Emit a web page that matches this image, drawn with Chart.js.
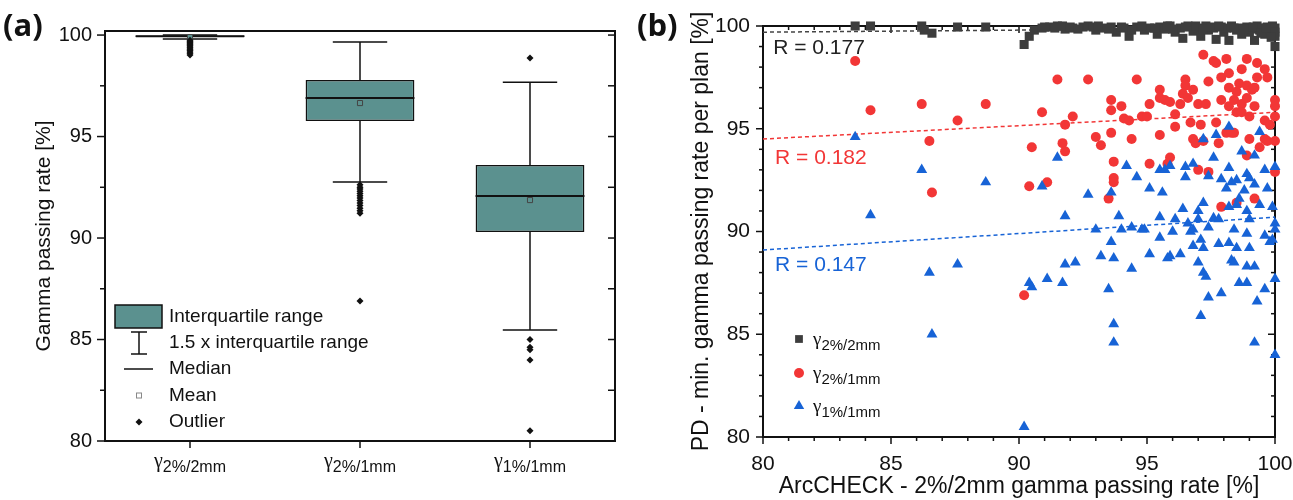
<!DOCTYPE html>
<html>
<head>
<meta charset="utf-8">
<script src="https://cdn.jsdelivr.net/npm/chart.js@4.4.0/dist/chart.umd.min.js"></script>
<style>
    body { margin: 0; background: #fff; width: 1293px; height: 500px; position: relative; overflow: hidden; }
    canvas { position: absolute; top: 0; }
    #boxCanvas { left: 0; }
    #scatterCanvas { left: 625px; }
</style>
</head>
<body>
<canvas id="boxCanvas" width="625" height="500"></canvas>
<canvas id="scatterCanvas" width="668" height="500"></canvas>
<script>
// --- (a) box plot values ---
const boxSubs = ['2%/2mm', '2%/1mm', '1%/1mm'];   // subscripts of the gamma criteria
const boxQ1 = [99.88, 95.76, 90.30];
const boxQ3 = [99.98, 97.78, 93.60];
const boxMedian = [99.95, 96.90, 92.07];
const boxMean = [99.90, 96.65, 91.87];
const whiskerLow = [99.80, 92.76, 85.47];
const whiskerHigh = [100.0, 99.66, 97.68];
const outliers = [
    [99.74, 99.68, 99.63, 99.57, 99.52, 99.47, 99.41, 99.36, 99.3, 99.24, 99.17, 99.1, 99.02],
    [92.62, 92.5, 92.41, 92.3, 92.2, 92.08, 91.97, 91.85, 91.72, 91.6, 91.47, 91.35, 91.22, 86.9],
    [98.87, 85.0, 84.62, 84.5, 83.99, 80.5]
];
const legendA = ['Interquartile range', '1.5 x interquartile range', 'Median', 'Mean', 'Outlier'];

// --- (b) scatter values ---
const sqX = [83.6, 84.2, 86.2, 86.3, 86.6, 87.6, 88.7, 90.2, 90.4, 90.6, 90.9, 91.2, 91.5, 91.8, 92.1, 92.5,
    92.7, 93.0, 93.3, 93.6, 93.8, 94.1, 94.3, 94.6, 94.9, 95.1, 95.4, 95.5, 95.7, 95.9, 96.1, 96.3, 96.4,
    96.6, 96.8, 97.0, 97.1, 97.3, 97.4, 97.6, 97.7, 97.9, 98.0, 98.1, 98.2, 98.3, 98.5, 98.6, 98.7, 98.9,
    99.0, 99.1, 99.2, 99.3, 99.4, 99.5, 99.6, 99.7, 99.8, 99.9, 100, 100, 100, 100,
    91.0, 91.4, 91.7, 92.0, 92.3, 92.9, 93.1, 93.5, 94.0, 94.4, 94.8, 95.3, 95.8, 96.0, 96.5, 96.9, 97.2,
    97.5, 97.8, 98.4, 98.8, 99.15, 99.45, 99.65, 99.85];
const sqY = [100, 100, 100, 99.8, 99.65, 99.95, 99.95, 99.1, 99.5, 99.8, 99.9, 99.95, 100, 99.85, 99.9, 99.95,
    100, 99.8, 99.9, 99.95, 99.7, 99.9, 99.5, 99.95, 99.8, 99.9, 99.6, 99.95, 99.85, 100, 99.7, 99.9, 99.4,
    100, 99.75, 99.9, 99.5, 100, 99.8, 99.9, 99.35, 99.95, 99.7, 99.9, 99.3, 100, 99.8, 99.9, 99.6, 99.95,
    99.7, 99.85, 99.3, 100, 99.8, 99.9, 99.6, 99.95, 99.8, 100, 99.9, 99.5, 99.0, 99.7,
    99.95, 99.9, 100, 99.95, 99.85, 99.95, 100, 99.85, 99.95, 99.8, 100, 99.9, 100, 99.85, 99.95, 100, 99.85,
    99.95, 100, 99.9, 99.85, 99.95, 99.65, 99.9, 99.45];

const dotX = [83.6, 84.2, 86.2, 86.5, 86.6, 87.6, 88.7, 90.2, 90.4, 90.5, 90.9, 91.1, 91.5, 91.7, 91.8, 91.8,
    92.1, 92.7, 93.0, 93.2, 93.5, 93.6, 93.6, 93.6, 93.7, 93.7, 93.7, 94.0, 94.1, 94.3, 94.4, 94.6, 94.8,
    95.0, 95.1, 95.1, 95.5, 95.5, 95.5, 95.7, 95.9, 95.9, 95.8, 96.1, 96.1, 96.3, 96.4, 96.5, 96.5, 96.6,
    96.8, 96.7, 96.8, 96.9, 97.0, 97.0, 97.1, 97.2, 97.2, 97.3, 97.4, 97.4, 97.6, 97.7, 97.7, 97.8, 97.9,
    97.9, 97.9, 98.1, 98.1, 98.2, 98.2, 98.2, 98.3, 98.4, 98.4, 98.5, 98.5, 98.5, 98.6, 98.7, 98.7, 98.7,
    98.9, 98.9, 98.9, 98.9, 99.0, 99.0, 99.1, 99.2, 99.2, 99.2, 99.3, 99.3, 99.4, 99.6, 99.6, 99.6, 99.7,
    99.7, 99.8, 100, 100, 100, 100, 100];
const dotY = [98.3, 95.9, 96.2, 94.4, 91.9, 95.4, 96.2, 86.9, 92.2, 94.1, 95.8, 92.4, 97.4, 94.3, 93.9, 95.2,
    95.6, 97.4, 94.6, 94.2, 91.6, 96.4, 95.9, 94.8, 93.4, 92.6, 92.4, 96.1, 95.5, 95.4, 94.5, 97.4, 95.6,
    95.6, 96.2, 93.3, 94.7, 96.9, 96.5, 96.4, 96.3, 93.6, 93.3, 95.7, 95.1, 96.2, 96.7, 97.4, 97.1, 96.5,
    96.9, 95.3, 94.5, 94.3, 96.2, 93.0, 95.2, 98.6, 94.4, 96.2, 97.3, 92.9, 98.3, 98.2, 95.3, 94.3, 97.5,
    96.4, 91.2, 98.4, 94.8, 97.7, 97.0, 96.1, 94.8, 94.8, 96.4, 95.8, 96.8, 91.4, 97.2, 97.9, 96.2, 95.8,
    98.4, 97.1, 96.5, 93.7, 95.6, 94.5, 96.9, 97.0, 96.1, 91.6, 98.2, 97.5, 94.1, 97.9, 95.4, 94.5, 97.5,
    94.4, 95.2, 96.4, 96.1, 95.6, 94.4, 92.9];

const triX = [83.6, 84.2, 86.2, 86.5, 86.6, 87.6, 88.7, 90.2, 90.4, 90.5, 90.9, 91.1, 91.5, 91.7, 91.8, 91.8,
    92.2, 92.7, 93.0, 93.2, 93.5, 93.6, 93.6, 93.7, 93.7, 93.7, 93.9, 94.0, 94.2, 94.4, 94.4, 94.6, 94.8,
    94.9, 95.1, 95.1, 95.5, 95.6, 95.5, 95.5, 95.7, 95.8, 95.9, 95.9, 96.0, 96.1, 96.3, 96.4, 96.5, 96.5,
    96.6, 96.7, 96.8, 96.8, 96.8, 97.0, 97.0, 97.0, 97.1, 97.1, 97.2, 97.2, 97.2, 97.2, 97.3, 97.4, 97.4,
    97.4, 97.6, 97.6, 97.7, 97.8, 97.8, 97.9, 97.9, 98.1, 98.2, 98.2, 98.2, 98.2, 98.3, 98.3, 98.4, 98.4,
    98.5, 98.5, 98.5, 98.6, 98.6, 98.7, 98.8, 98.9, 98.9, 98.9, 98.9, 98.9, 99.0, 99.0, 99.0, 99.2, 99.2,
    99.2, 99.2, 99.3, 99.4, 99.4, 99.6, 99.6, 99.6, 99.7, 99.8, 99.9, 99.9, 100, 100, 100, 100, 100];
const triY = [94.6, 90.8, 93.0, 88.0, 85.0, 88.4, 92.4, 80.5, 87.5, 87.3, 92.2, 87.7, 93.6, 87.5, 90.75, 88.4,
    88.5, 91.8, 90.1, 88.8, 87.2, 91.9, 89.5, 88.7, 85.5, 84.6, 90.75, 90.1, 93.2, 90.2, 88.2, 92.65, 90.1,
    90.1, 92.1, 88.9, 93.0, 91.9, 90.7, 89.7, 93.0, 88.7, 93.2, 88.8, 90.0, 90.6, 88.9, 91.1, 93.15, 92.65,
    90.4, 90.0, 93.3, 90.1, 89.3, 91.0, 90.6, 88.5, 89.6, 85.9, 94.5, 91.4, 89.2, 88.0, 87.8, 92.7, 90.2,
    86.8, 93.6, 90.65, 94.7, 90.6, 89.4, 92.55, 87.0, 92.1, 95.1, 93.1, 91.2, 89.45, 92.4, 88.6, 90.1, 88.5,
    92.5, 91.3, 89.2, 91.6, 87.5, 93.9, 92.0, 92.8, 91.0, 89.9, 88.3, 87.5, 92.6, 90.6, 89.2, 93.7, 92.3,
    88.3, 84.6, 86.6, 94.85, 91.3, 93.0, 89.8, 87.2, 92.1, 89.5, 91.2, 89.6, 93.15, 90.4, 90.1, 87.7, 84.0];

// linear fits, read at x = 80 and x = 100
const fitX = [80, 100];
const fitGray = [99.7, 99.9];
const fitRed = [94.5, 95.8];
const fitBlue = [89.1, 90.7];
const rTexts = ['R = 0.177', 'R = 0.182', 'R = 0.147'];
const seriesSubs = ['2%/2mm', '2%/1mm', '1%/1mm'];

const FONT = "'Liberation Sans', Arial, sans-serif";
const TEAL = '#5b918f';
const GRAY = '#3d3d3d';
const RED = '#f23636';
const BLUE = '#1763d6';
Chart.defaults.font.family = FONT;
Chart.defaults.color = '#111';

const zip = (xs, ys) => xs.map((x, i) => ({x: x, y: ys[i]}));

// gamma symbol with a subscript
function drawGamma(ctx, sub, x, y, gSize, sSize, center) {
    ctx.font = gSize + 'px "Liberation Serif"';
    const w1 = ctx.measureText('γ').width;
    ctx.font = sSize + 'px ' + FONT;
    const w2 = ctx.measureText(sub).width;
    const x0 = center ? x - (w1 + w2) / 2 : x;
    ctx.textAlign = 'left';
    ctx.textBaseline = 'alphabetic';
    ctx.font = gSize + 'px "Liberation Serif"';
    ctx.fillText('γ', x0, y);
    ctx.font = sSize + 'px ' + FONT;
    ctx.fillText(sub, x0 + w1, y + 5);
}

// frame around the plot area with inner / outer tick marks
const framePlugin = {
    id: 'frame',
    beforeDatasetsDraw(chart, args, opts) {
        const {ctx, chartArea: a} = chart;
        const xs = chart.scales.x, ys = chart.scales.y;
        const line = (x1, y1, x2, y2) => { ctx.beginPath(); ctx.moveTo(x1, y1); ctx.lineTo(x2, y2); ctx.stroke(); };
        ctx.save();
        ctx.strokeStyle = '#111';
        ctx.lineWidth = 1.5;
        opts.xTicks.forEach(t => {
            const px = xs.getPixelForValue(t.v);
            if (t.out) line(px, a.bottom, px, a.bottom + t.out);
            if (t.inn) line(px, a.top, px, a.top + t.inn);
        });
        opts.yTicks.forEach(t => {
            const py = ys.getPixelForValue(t.v);
            if (t.out) line(a.left, py, a.left - t.out, py);
            if (t.inn) line(a.right, py, a.right - t.inn, py);
        });
        ctx.lineWidth = 2;
        ctx.strokeRect(a.left, a.top, a.right - a.left, a.bottom - a.top);
        ctx.restore();
    }
};

// ---------- (a) ----------
const medianSegs = [], whiskerSegs = [];
function addSeg(list, x1, y1, x2, y2) { list.push({x: x1, y: y1}, {x: x2, y: y2}, {x: x2, y: null}); }
boxQ1.forEach((q1, i) => {
    addSeg(medianSegs, i - 0.32, boxMedian[i], i + 0.32, boxMedian[i]);
    addSeg(whiskerSegs, i, boxQ3[i], i, whiskerHigh[i]);
    addSeg(whiskerSegs, i, q1, i, whiskerLow[i]);
    addSeg(whiskerSegs, i - 0.16, whiskerHigh[i], i + 0.16, whiskerHigh[i]);
    addSeg(whiskerSegs, i - 0.16, whiskerLow[i], i + 0.16, whiskerLow[i]);
});

const ticksA = { xTicks: [], yTicks: [] };
[0, 1, 2].forEach(v => ticksA.xTicks.push({v: v, out: 7}));
for (let v = 80; v <= 100; v += 2.5) ticksA.yTicks.push({v: v, out: v % 5 === 0 ? 8 : 5, inn: 7});

const boxExtras = {
    id: 'boxExtras',
    afterDraw(chart) {
        const {ctx} = chart;
        const xs = chart.scales.x;
        ctx.save();
        ctx.fillStyle = '#111';
        boxSubs.forEach((s, i) => drawGamma(ctx, s, xs.getPixelForValue(i), 467, 20, 16, true));

        // panel letter
        ctx.font = 'bold 31px "Open Sans"';
        ctx.textBaseline = 'alphabetic';
        ctx.fillText('(a)', 3, 36);

        // legend
        ctx.fillStyle = TEAL;
        ctx.strokeStyle = '#111';
        ctx.lineWidth = 1.5;
        ctx.fillRect(115, 305, 47, 23);
        ctx.strokeRect(115, 305, 47, 23);
        const line = (x1, y1, x2, y2) => { ctx.beginPath(); ctx.moveTo(x1, y1); ctx.lineTo(x2, y2); ctx.stroke(); };
        line(139, 332, 139, 354);
        line(131, 332, 147, 332);
        line(131, 354, 147, 354);
        line(124, 369, 153, 369);
        ctx.lineWidth = 1;
        ctx.strokeStyle = '#888';
        ctx.strokeRect(136.5, 393, 5, 5);
        ctx.fillStyle = '#111';
        Chart.helpers.drawPoint(ctx, {pointStyle: 'rectRot', radius: 3.5, borderWidth: 0}, 139, 422);
        ctx.font = '19px ' + FONT;
        ctx.textBaseline = 'middle';
        ctx.textAlign = 'left';
        [317, 343, 369, 396, 422].forEach((y, i) => ctx.fillText(legendA[i], 169, y));
        ctx.restore();
    }
};

new Chart(document.getElementById('boxCanvas'), {
    type: 'bar',
    data: {
        datasets: [
            {
                type: 'scatter', order: 0,
                data: outliers.flatMap((list, i) => list.map(v => ({x: i, y: v}))),
                pointStyle: 'rectRot', pointRadius: 3.5, backgroundColor: '#111', borderWidth: 0
            },
            {
                type: 'scatter', order: 1,
                data: boxMean.map((m, i) => ({x: i, y: m})),
                pointStyle: 'rect', pointRadius: 3.6, backgroundColor: TEAL, borderColor: '#444', borderWidth: 1
            },
            {
                type: 'line', order: 2, data: medianSegs,
                borderColor: '#111', borderWidth: 1.8, pointRadius: 0, spanGaps: false
            },
            {
                type: 'line', order: 3, data: whiskerSegs,
                borderColor: '#111', borderWidth: 1.5, pointRadius: 0, spanGaps: false
            },
            {
                type: 'bar', order: 4,
                data: boxQ1.map((q1, i) => ({x: i, y: [q1, boxQ3[i]]})),
                backgroundColor: TEAL, borderColor: '#111', borderWidth: 1.5, borderSkipped: false,
                barPercentage: 0.64, categoryPercentage: 1
            }
        ]
    },
    options: {
        responsive: false,
        animation: false,
        events: [],
        layout: { padding: { top: 31, right: 10, left: 0, bottom: 0 } },
        plugins: { legend: { display: false }, tooltip: { enabled: false }, frame: ticksA },
        scales: {
            x: {
                type: 'linear', min: -0.5, max: 2.5, offset: false,
                ticks: { display: false, stepSize: 1, includeBounds: false },
                grid: { display: false, drawTicks: false },
                border: { display: false },
                afterFit(s) { s.height = 59; }
            },
            y: {
                min: 80, max: 100.2,
                ticks: { stepSize: 5, includeBounds: false, padding: 13, font: { size: 20 }, color: '#111' },
                grid: { display: false, drawTicks: false },
                border: { display: false },
                title: { display: true, text: 'Gamma passing rate [%]', font: { size: 21 }, color: '#111', padding: { top: 32, bottom: 0 } },
                afterFit(s) { s.width = 105; }
            }
        }
    },
    plugins: [framePlugin, boxExtras]
});

// ---------- (b) ----------
const ticksB = { xTicks: [], yTicks: [] };
for (let v = 80; v <= 100; v += 1) {
    const len = v % 5 === 0 ? 7 : 4;
    ticksB.xTicks.push({v: v, out: len, inn: len});
    ticksB.yTicks.push({v: v, out: len, inn: len});
}

const scatterExtras = {
    id: 'scatterExtras',
    afterDatasetsDraw(chart) {
        const {ctx} = chart;
        const xs = chart.scales.x, ys = chart.scales.y;
        ctx.save();
        ctx.font = '21px ' + FONT;
        ctx.textAlign = 'left';
        ctx.textBaseline = 'middle';
        const colors = ['#222', RED, BLUE];
        const at = [[80.4, 98.93], [80.47, 93.58], [80.47, 88.37]];
        rTexts.forEach((t, i) => {
            ctx.fillStyle = colors[i];
            ctx.fillText(t, xs.getPixelForValue(at[i][0]), ys.getPixelForValue(at[i][1]));
        });
        ctx.restore();
    },
    afterDraw(chart) {
        const {ctx, chartArea: a} = chart;
        ctx.save();
        ctx.fillStyle = '#111';
        ctx.font = 'bold 31px "Open Sans"';
        ctx.textBaseline = 'alphabetic';
        ctx.fillText('(b)', 12, 36);

        const styles = [
            {pointStyle: 'rect', radius: 5.5, color: GRAY},
            {pointStyle: 'circle', radius: 5, color: RED},
            {pointStyle: 'triangle', radius: 6, color: BLUE}
        ];
        [-98, -64, -31].forEach((dy, i) => {
            const y = a.bottom + dy;
            ctx.fillStyle = styles[i].color;
            Chart.helpers.drawPoint(ctx, {pointStyle: styles[i].pointStyle, radius: styles[i].radius, borderWidth: 0}, a.left + 36, y);
            ctx.fillStyle = '#111';
            drawGamma(ctx, seriesSubs[i], a.left + 50, y + 6, 19, 15, false);
        });
        ctx.restore();
    }
};

const fitLine = (ys, color, order) => ({
    type: 'line', order: order, data: zip(fitX, ys), borderColor: color, borderWidth: 1.5,
    borderDash: [4, 3], pointRadius: 0, showLine: true
});

new Chart(document.getElementById('scatterCanvas'), {
    type: 'scatter',
    data: {
        datasets: [
            { order: 0, data: zip(triX, triY), pointStyle: 'triangle', pointRadius: 6.3, backgroundColor: BLUE, borderWidth: 0, clip: false },
            { order: 1, data: zip(dotX, dotY), pointStyle: 'circle', pointRadius: 5, backgroundColor: RED, borderWidth: 0, clip: false },
            { order: 2, data: zip(sqX, sqY), pointStyle: 'rect', pointRadius: 6.4, backgroundColor: GRAY, borderWidth: 0, clip: false },
            fitLine(fitGray, '#444', 3),
            fitLine(fitRed, RED, 3),
            fitLine(fitBlue, BLUE, 3)
        ]
    },
    options: {
        responsive: false,
        animation: false,
        events: [],
        layout: { padding: { top: 26, right: 18, left: 0, bottom: 0 } },
        plugins: { legend: { display: false }, tooltip: { enabled: false }, frame: ticksB },
        scales: {
            x: {
                type: 'linear', min: 80, max: 100,
                ticks: { stepSize: 5, padding: 15, font: { size: 21 }, color: '#111' },
                grid: { display: false, drawTicks: false },
                border: { display: false },
                title: { display: true, text: 'ArcCHECK - 2%/2mm gamma passing rate [%]', font: { size: 23 }, color: '#111', padding: { top: 1, bottom: 0 } },
                afterFit(s) { s.height = 63; s.paddingLeft = 0; s.paddingRight = 0; }
            },
            y: {
                min: 80, max: 100,
                ticks: { stepSize: 5, padding: 13, font: { size: 21 }, color: '#111' },
                grid: { display: false, drawTicks: false },
                border: { display: false },
                title: { display: true, text: 'PD - min. gamma passing rate per plan [%]', font: { size: 23 }, color: '#111', padding: { top: 63, bottom: 0 } },
                afterFit(s) { s.width = 138; }
            }
        }
    },
    plugins: [framePlugin, scatterExtras]
});
</script>
</body>
</html>
